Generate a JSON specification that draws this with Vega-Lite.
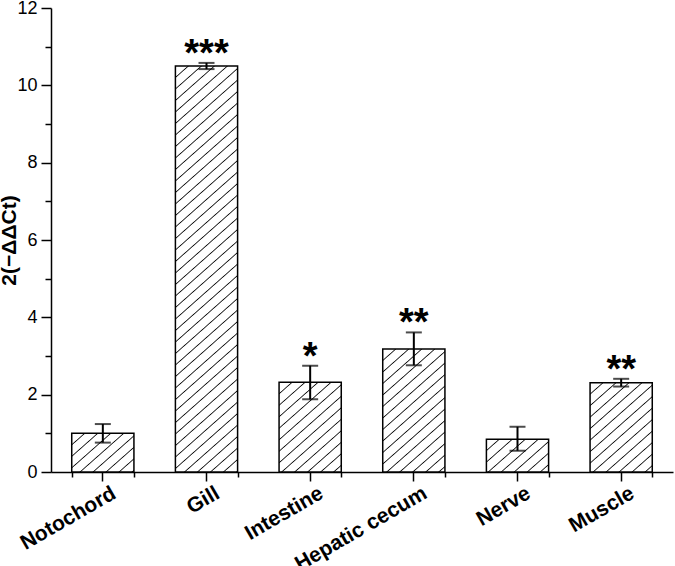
{
  "$schema": "https://vega.github.io/schema/vega-lite/v6.json",
  "width": 622,
  "height": 464,
  "autosize": {"type": "none"},
  "padding": {"left": 51, "top": 8, "right": 2, "bottom": 94},
  "background": "white",
  "config": {"view": {"stroke": null}, "font": "Liberation Sans", "axis": {"grid": false}},
  "data": {"values": [
    {"tissue": "Notochord", "value": 1.0, "lo": 0.76, "hi": 1.24, "sig": ""},
    {"tissue": "Gill", "value": 10.5, "lo": 10.42, "hi": 10.58, "sig": "***"},
    {"tissue": "Intestine", "value": 2.32, "lo": 1.88, "hi": 2.75, "sig": "*"},
    {"tissue": "Hepatic cecum", "value": 3.18, "lo": 2.76, "hi": 3.61, "sig": "**"},
    {"tissue": "Nerve", "value": 0.85, "lo": 0.55, "hi": 1.17, "sig": ""},
    {"tissue": "Muscle", "value": 2.31, "lo": 2.21, "hi": 2.41, "sig": "**"}
  ]},
  "resolve": {"axis": {"x": "independent", "y": "independent"}},
  "layer": [
    {
      "transform": [{"filter": "datum.tissue === 'Notochord'"}],
      "mark": {"type": "bar", "stroke": "#000", "strokeWidth": 1.5, "fill": {"gradient": "linear", "x1": 0, "y1": 0, "x2": 1.140, "y2": 0.801, "stops": [
        {"offset": 0, "color": "#fff"},
        {"offset": 0.1105, "color": "#fff"}, {"offset": 0.1227, "color": "#111"}, {"offset": 0.1350, "color": "#fff"},
        {"offset": 0.2332, "color": "#fff"}, {"offset": 0.2455, "color": "#111"}, {"offset": 0.2578, "color": "#fff"},
        {"offset": 0.3560, "color": "#fff"}, {"offset": 0.3682, "color": "#111"}, {"offset": 0.3805, "color": "#fff"},
        {"offset": 0.4787, "color": "#fff"}, {"offset": 0.4910, "color": "#111"}, {"offset": 0.5032, "color": "#fff"},
        {"offset": 0.6014, "color": "#fff"}, {"offset": 0.6137, "color": "#111"}, {"offset": 0.6260, "color": "#fff"},
        {"offset": 0.7242, "color": "#fff"}, {"offset": 0.7364, "color": "#111"}, {"offset": 0.7487, "color": "#fff"},
        {"offset": 0.8469, "color": "#fff"}, {"offset": 0.8592, "color": "#111"}, {"offset": 0.8715, "color": "#fff"},
        {"offset": 0.9697, "color": "#fff"}, {"offset": 0.9819, "color": "#111"}, {"offset": 0.9942, "color": "#fff"},
        {"offset": 1, "color": "#fff"}
      ]}},
      "encoding": {
        "x": {"field": "tissue", "type": "nominal", "scale": {"domain": ["Notochord", "Gill", "Intestine", "Hepatic cecum", "Nerve", "Muscle"], "paddingInner": 0.4, "paddingOuter": 0.2},
          "axis": {"title": null, "orient": "bottom", "domainColor": "#000", "domainWidth": 1.5, "tickColor": "#000", "tickWidth": 1.5, "tickSize": 9, "labelAngle": -30, "labelAlign": "right", "labelBaseline": "top", "labelFont": "Liberation Sans", "labelFontWeight": "bold", "labelFontSize": 21, "labelColor": "#000", "labelPadding": 1, "labelOffset": 6}},
        "y": {"field": "value", "type": "quantitative", "scale": {"domain": [0, 12], "nice": false},
          "axis": {"title": "2(−ΔΔCt)", "orient": "left", "values": [0, 2, 4, 6, 8, 10, 12], "domainColor": "#000", "domainWidth": 1.5, "tickColor": "#000", "tickWidth": 1.5, "tickSize": 10, "labelFont": "Liberation Sans", "labelFontSize": 18, "labelColor": "#000", "labelPadding": 4, "titleFont": "Liberation Sans", "titleFontSize": 21, "titleFontWeight": "bold", "titleColor": "#000", "titlePadding": -3}}
      }
    },
    {
      "transform": [{"filter": "datum.tissue === 'Gill'"}],
      "mark": {"type": "bar", "stroke": "#000", "strokeWidth": 1.5, "fill": {"gradient": "linear", "x1": 0, "y1": 0, "x2": 0.1512, "y2": 1.1152, "stops": [
        {"offset": 0, "color": "#fff"},
        {"offset": 0.0224, "color": "#fff"}, {"offset": 0.0249, "color": "#111"}, {"offset": 0.0274, "color": "#fff"},
        {"offset": 0.0474, "color": "#fff"}, {"offset": 0.0499, "color": "#111"}, {"offset": 0.0524, "color": "#fff"},
        {"offset": 0.0723, "color": "#fff"}, {"offset": 0.0748, "color": "#111"}, {"offset": 0.0773, "color": "#fff"},
        {"offset": 0.0973, "color": "#fff"}, {"offset": 0.0998, "color": "#111"}, {"offset": 0.1023, "color": "#fff"},
        {"offset": 0.1222, "color": "#fff"}, {"offset": 0.1247, "color": "#111"}, {"offset": 0.1272, "color": "#fff"},
        {"offset": 0.1472, "color": "#fff"}, {"offset": 0.1497, "color": "#111"}, {"offset": 0.1522, "color": "#fff"},
        {"offset": 0.1721, "color": "#fff"}, {"offset": 0.1746, "color": "#111"}, {"offset": 0.1771, "color": "#fff"},
        {"offset": 0.1971, "color": "#fff"}, {"offset": 0.1996, "color": "#111"}, {"offset": 0.2021, "color": "#fff"},
        {"offset": 0.2220, "color": "#fff"}, {"offset": 0.2245, "color": "#111"}, {"offset": 0.2270, "color": "#fff"},
        {"offset": 0.2469, "color": "#fff"}, {"offset": 0.2494, "color": "#111"}, {"offset": 0.2519, "color": "#fff"},
        {"offset": 0.2719, "color": "#fff"}, {"offset": 0.2744, "color": "#111"}, {"offset": 0.2769, "color": "#fff"},
        {"offset": 0.2968, "color": "#fff"}, {"offset": 0.2993, "color": "#111"}, {"offset": 0.3018, "color": "#fff"},
        {"offset": 0.3218, "color": "#fff"}, {"offset": 0.3243, "color": "#111"}, {"offset": 0.3268, "color": "#fff"},
        {"offset": 0.3467, "color": "#fff"}, {"offset": 0.3492, "color": "#111"}, {"offset": 0.3517, "color": "#fff"},
        {"offset": 0.3717, "color": "#fff"}, {"offset": 0.3742, "color": "#111"}, {"offset": 0.3767, "color": "#fff"},
        {"offset": 0.3966, "color": "#fff"}, {"offset": 0.3991, "color": "#111"}, {"offset": 0.4016, "color": "#fff"},
        {"offset": 0.4215, "color": "#fff"}, {"offset": 0.4240, "color": "#111"}, {"offset": 0.4265, "color": "#fff"},
        {"offset": 0.4465, "color": "#fff"}, {"offset": 0.4490, "color": "#111"}, {"offset": 0.4515, "color": "#fff"},
        {"offset": 0.4714, "color": "#fff"}, {"offset": 0.4739, "color": "#111"}, {"offset": 0.4764, "color": "#fff"},
        {"offset": 0.4964, "color": "#fff"}, {"offset": 0.4989, "color": "#111"}, {"offset": 0.5014, "color": "#fff"},
        {"offset": 0.5213, "color": "#fff"}, {"offset": 0.5238, "color": "#111"}, {"offset": 0.5263, "color": "#fff"},
        {"offset": 0.5463, "color": "#fff"}, {"offset": 0.5488, "color": "#111"}, {"offset": 0.5513, "color": "#fff"},
        {"offset": 0.5712, "color": "#fff"}, {"offset": 0.5737, "color": "#111"}, {"offset": 0.5762, "color": "#fff"},
        {"offset": 0.5962, "color": "#fff"}, {"offset": 0.5987, "color": "#111"}, {"offset": 0.6012, "color": "#fff"},
        {"offset": 0.6211, "color": "#fff"}, {"offset": 0.6236, "color": "#111"}, {"offset": 0.6261, "color": "#fff"},
        {"offset": 0.6460, "color": "#fff"}, {"offset": 0.6485, "color": "#111"}, {"offset": 0.6510, "color": "#fff"},
        {"offset": 0.6710, "color": "#fff"}, {"offset": 0.6735, "color": "#111"}, {"offset": 0.6760, "color": "#fff"},
        {"offset": 0.6959, "color": "#fff"}, {"offset": 0.6984, "color": "#111"}, {"offset": 0.7009, "color": "#fff"},
        {"offset": 0.7209, "color": "#fff"}, {"offset": 0.7234, "color": "#111"}, {"offset": 0.7259, "color": "#fff"},
        {"offset": 0.7458, "color": "#fff"}, {"offset": 0.7483, "color": "#111"}, {"offset": 0.7508, "color": "#fff"},
        {"offset": 0.7708, "color": "#fff"}, {"offset": 0.7733, "color": "#111"}, {"offset": 0.7758, "color": "#fff"},
        {"offset": 0.7957, "color": "#fff"}, {"offset": 0.7982, "color": "#111"}, {"offset": 0.8007, "color": "#fff"},
        {"offset": 0.8207, "color": "#fff"}, {"offset": 0.8232, "color": "#111"}, {"offset": 0.8257, "color": "#fff"},
        {"offset": 0.8456, "color": "#fff"}, {"offset": 0.8481, "color": "#111"}, {"offset": 0.8506, "color": "#fff"},
        {"offset": 0.8705, "color": "#fff"}, {"offset": 0.8730, "color": "#111"}, {"offset": 0.8755, "color": "#fff"},
        {"offset": 0.8955, "color": "#fff"}, {"offset": 0.8980, "color": "#111"}, {"offset": 0.9005, "color": "#fff"},
        {"offset": 0.9204, "color": "#fff"}, {"offset": 0.9229, "color": "#111"}, {"offset": 0.9254, "color": "#fff"},
        {"offset": 0.9454, "color": "#fff"}, {"offset": 0.9479, "color": "#111"}, {"offset": 0.9504, "color": "#fff"},
        {"offset": 0.9703, "color": "#fff"}, {"offset": 0.9728, "color": "#111"}, {"offset": 0.9753, "color": "#fff"},
        {"offset": 0.9953, "color": "#fff"}, {"offset": 0.9978, "color": "#111"}, {"offset": 1, "color": "#fff"}
      ]}},
      "encoding": {
        "x": {"field": "tissue", "type": "nominal", "scale": {"domain": ["Notochord", "Gill", "Intestine", "Hepatic cecum", "Nerve", "Muscle"], "paddingInner": 0.4, "paddingOuter": 0.2}, "axis": null},
        "y": {"field": "value", "type": "quantitative", "scale": {"domain": [0, 12], "nice": false}, "axis": null}
      }
    },
    {
      "transform": [{"filter": "datum.tissue === 'Intestine'"}],
      "mark": {"type": "bar", "stroke": "#000", "strokeWidth": 1.5, "fill": {"gradient": "linear", "x1": 0, "y1": 0, "x2": 0.7191, "y2": 1.1722, "stops": [
        {"offset": 0, "color": "#fff"},
        {"offset": 0.0716, "color": "#fff"}, {"offset": 0.0795, "color": "#111"}, {"offset": 0.0874, "color": "#fff"},
        {"offset": 0.1510, "color": "#fff"}, {"offset": 0.1589, "color": "#111"}, {"offset": 0.1668, "color": "#fff"},
        {"offset": 0.2305, "color": "#fff"}, {"offset": 0.2384, "color": "#111"}, {"offset": 0.2463, "color": "#fff"},
        {"offset": 0.3099, "color": "#fff"}, {"offset": 0.3178, "color": "#111"}, {"offset": 0.3257, "color": "#fff"},
        {"offset": 0.3894, "color": "#fff"}, {"offset": 0.3973, "color": "#111"}, {"offset": 0.4052, "color": "#fff"},
        {"offset": 0.4689, "color": "#fff"}, {"offset": 0.4768, "color": "#111"}, {"offset": 0.4847, "color": "#fff"},
        {"offset": 0.5483, "color": "#fff"}, {"offset": 0.5562, "color": "#111"}, {"offset": 0.5641, "color": "#fff"},
        {"offset": 0.6278, "color": "#fff"}, {"offset": 0.6357, "color": "#111"}, {"offset": 0.6436, "color": "#fff"},
        {"offset": 0.7072, "color": "#fff"}, {"offset": 0.7151, "color": "#111"}, {"offset": 0.7230, "color": "#fff"},
        {"offset": 0.7867, "color": "#fff"}, {"offset": 0.7946, "color": "#111"}, {"offset": 0.8025, "color": "#fff"},
        {"offset": 0.8662, "color": "#fff"}, {"offset": 0.8741, "color": "#111"}, {"offset": 0.8820, "color": "#fff"},
        {"offset": 0.9456, "color": "#fff"}, {"offset": 0.9535, "color": "#111"}, {"offset": 0.9614, "color": "#fff"},
        {"offset": 1, "color": "#fff"}
      ]}},
      "encoding": {
        "x": {"field": "tissue", "type": "nominal", "scale": {"domain": ["Notochord", "Gill", "Intestine", "Hepatic cecum", "Nerve", "Muscle"], "paddingInner": 0.4, "paddingOuter": 0.2}, "axis": null},
        "y": {"field": "value", "type": "quantitative", "scale": {"domain": [0, 12], "nice": false}, "axis": null}
      }
    },
    {
      "transform": [{"filter": "datum.tissue === 'Hepatic cecum'"}],
      "mark": {"type": "bar", "stroke": "#000", "strokeWidth": 1.5, "fill": {"gradient": "linear", "x1": 0, "y1": 0, "x2": 0.5398, "y2": 1.2059, "stops": [
        {"offset": 0, "color": "#fff"},
        {"offset": 0.0581, "color": "#fff"}, {"offset": 0.0646, "color": "#111"}, {"offset": 0.0711, "color": "#fff"},
        {"offset": 0.1227, "color": "#fff"}, {"offset": 0.1292, "color": "#111"}, {"offset": 0.1357, "color": "#fff"},
        {"offset": 0.1874, "color": "#fff"}, {"offset": 0.1939, "color": "#111"}, {"offset": 0.2004, "color": "#fff"},
        {"offset": 0.2520, "color": "#fff"}, {"offset": 0.2585, "color": "#111"}, {"offset": 0.2650, "color": "#fff"},
        {"offset": 0.3166, "color": "#fff"}, {"offset": 0.3231, "color": "#111"}, {"offset": 0.3296, "color": "#fff"},
        {"offset": 0.3812, "color": "#fff"}, {"offset": 0.3877, "color": "#111"}, {"offset": 0.3942, "color": "#fff"},
        {"offset": 0.4458, "color": "#fff"}, {"offset": 0.4523, "color": "#111"}, {"offset": 0.4588, "color": "#fff"},
        {"offset": 0.5105, "color": "#fff"}, {"offset": 0.5170, "color": "#111"}, {"offset": 0.5235, "color": "#fff"},
        {"offset": 0.5751, "color": "#fff"}, {"offset": 0.5816, "color": "#111"}, {"offset": 0.5881, "color": "#fff"},
        {"offset": 0.6397, "color": "#fff"}, {"offset": 0.6462, "color": "#111"}, {"offset": 0.6527, "color": "#fff"},
        {"offset": 0.7043, "color": "#fff"}, {"offset": 0.7108, "color": "#111"}, {"offset": 0.7173, "color": "#fff"},
        {"offset": 0.7689, "color": "#fff"}, {"offset": 0.7754, "color": "#111"}, {"offset": 0.7819, "color": "#fff"},
        {"offset": 0.8336, "color": "#fff"}, {"offset": 0.8401, "color": "#111"}, {"offset": 0.8466, "color": "#fff"},
        {"offset": 0.8982, "color": "#fff"}, {"offset": 0.9047, "color": "#111"}, {"offset": 0.9112, "color": "#fff"},
        {"offset": 0.9628, "color": "#fff"}, {"offset": 0.9693, "color": "#111"}, {"offset": 0.9758, "color": "#fff"},
        {"offset": 1, "color": "#fff"}
      ]}},
      "encoding": {
        "x": {"field": "tissue", "type": "nominal", "scale": {"domain": ["Notochord", "Gill", "Intestine", "Hepatic cecum", "Nerve", "Muscle"], "paddingInner": 0.4, "paddingOuter": 0.2}, "axis": null},
        "y": {"field": "value", "type": "quantitative", "scale": {"domain": [0, 12], "nice": false}, "axis": null}
      }
    },
    {
      "transform": [{"filter": "datum.tissue === 'Nerve'"}],
      "mark": {"type": "bar", "stroke": "#000", "strokeWidth": 1.5, "fill": {"gradient": "linear", "x1": 0, "y1": 0, "x2": 1.177, "y2": 0.703, "stops": [
        {"offset": 0, "color": "#fff"},
        {"offset": 0.1177, "color": "#fff"}, {"offset": 0.1308, "color": "#111"}, {"offset": 0.1439, "color": "#fff"},
        {"offset": 0.2486, "color": "#fff"}, {"offset": 0.2617, "color": "#111"}, {"offset": 0.2748, "color": "#fff"},
        {"offset": 0.3794, "color": "#fff"}, {"offset": 0.3925, "color": "#111"}, {"offset": 0.4056, "color": "#fff"},
        {"offset": 0.5103, "color": "#fff"}, {"offset": 0.5234, "color": "#111"}, {"offset": 0.5365, "color": "#fff"},
        {"offset": 0.6411, "color": "#fff"}, {"offset": 0.6542, "color": "#111"}, {"offset": 0.6673, "color": "#fff"},
        {"offset": 0.7719, "color": "#fff"}, {"offset": 0.7850, "color": "#111"}, {"offset": 0.7981, "color": "#fff"},
        {"offset": 0.9028, "color": "#fff"}, {"offset": 0.9159, "color": "#111"}, {"offset": 0.9290, "color": "#fff"},
        {"offset": 1, "color": "#fff"}
      ]}},
      "encoding": {
        "x": {"field": "tissue", "type": "nominal", "scale": {"domain": ["Notochord", "Gill", "Intestine", "Hepatic cecum", "Nerve", "Muscle"], "paddingInner": 0.4, "paddingOuter": 0.2}, "axis": null},
        "y": {"field": "value", "type": "quantitative", "scale": {"domain": [0, 12], "nice": false}, "axis": null}
      }
    },
    {
      "transform": [{"filter": "datum.tissue === 'Muscle'"}],
      "mark": {"type": "bar", "stroke": "#000", "strokeWidth": 1.5, "fill": {"gradient": "linear", "x1": 0, "y1": 0, "x2": 0.7216, "y2": 1.1713, "stops": [
        {"offset": 0, "color": "#fff"},
        {"offset": 0.0717, "color": "#fff"}, {"offset": 0.0797, "color": "#111"}, {"offset": 0.0877, "color": "#fff"},
        {"offset": 0.1513, "color": "#fff"}, {"offset": 0.1593, "color": "#111"}, {"offset": 0.1673, "color": "#fff"},
        {"offset": 0.2310, "color": "#fff"}, {"offset": 0.2390, "color": "#111"}, {"offset": 0.2470, "color": "#fff"},
        {"offset": 0.3107, "color": "#fff"}, {"offset": 0.3187, "color": "#111"}, {"offset": 0.3267, "color": "#fff"},
        {"offset": 0.3903, "color": "#fff"}, {"offset": 0.3983, "color": "#111"}, {"offset": 0.4063, "color": "#fff"},
        {"offset": 0.4700, "color": "#fff"}, {"offset": 0.4780, "color": "#111"}, {"offset": 0.4860, "color": "#fff"},
        {"offset": 0.5497, "color": "#fff"}, {"offset": 0.5577, "color": "#111"}, {"offset": 0.5657, "color": "#fff"},
        {"offset": 0.6293, "color": "#fff"}, {"offset": 0.6373, "color": "#111"}, {"offset": 0.6453, "color": "#fff"},
        {"offset": 0.7090, "color": "#fff"}, {"offset": 0.7170, "color": "#111"}, {"offset": 0.7250, "color": "#fff"},
        {"offset": 0.7887, "color": "#fff"}, {"offset": 0.7967, "color": "#111"}, {"offset": 0.8047, "color": "#fff"},
        {"offset": 0.8684, "color": "#fff"}, {"offset": 0.8764, "color": "#111"}, {"offset": 0.8844, "color": "#fff"},
        {"offset": 0.9480, "color": "#fff"}, {"offset": 0.9560, "color": "#111"}, {"offset": 0.9640, "color": "#fff"},
        {"offset": 1, "color": "#fff"}
      ]}},
      "encoding": {
        "x": {"field": "tissue", "type": "nominal", "scale": {"domain": ["Notochord", "Gill", "Intestine", "Hepatic cecum", "Nerve", "Muscle"], "paddingInner": 0.4, "paddingOuter": 0.2}, "axis": null},
        "y": {"field": "value", "type": "quantitative", "scale": {"domain": [0, 12], "nice": false}, "axis": null}
      }
    },
    {
      "mark": {"type": "rule", "color": "#000", "strokeWidth": 2},
      "encoding": {
        "x": {"field": "tissue", "type": "nominal", "scale": {"domain": ["Notochord", "Gill", "Intestine", "Hepatic cecum", "Nerve", "Muscle"], "paddingInner": 0.4, "paddingOuter": 0.2},
          "axis": {"title": null, "orient": "bottom", "labels": false, "domain": false, "tickBand": "extent", "tickColor": "#000", "tickWidth": 1.5, "tickSize": 5}},
        "y": {"field": "lo", "type": "quantitative", "scale": {"domain": [0, 12], "nice": false},
          "axis": {"title": null, "orient": "left", "values": [1, 3, 5, 7, 9, 11], "labels": false, "domain": false, "tickColor": "#000", "tickWidth": 1.5, "tickSize": 6}},
        "y2": {"field": "hi"}
      }
    },
    {
      "mark": {"type": "tick", "orient": "horizontal", "color": "#000", "size": 16, "thickness": 2},
      "encoding": {
        "x": {"field": "tissue", "type": "nominal", "scale": {"domain": ["Notochord", "Gill", "Intestine", "Hepatic cecum", "Nerve", "Muscle"], "paddingInner": 0.4, "paddingOuter": 0.2}, "axis": null},
        "y": {"field": "lo", "type": "quantitative", "scale": {"domain": [0, 12], "nice": false}, "axis": null}
      }
    },
    {
      "mark": {"type": "tick", "orient": "horizontal", "color": "#000", "size": 16, "thickness": 2},
      "encoding": {
        "x": {"field": "tissue", "type": "nominal", "scale": {"domain": ["Notochord", "Gill", "Intestine", "Hepatic cecum", "Nerve", "Muscle"], "paddingInner": 0.4, "paddingOuter": 0.2}, "axis": null},
        "y": {"field": "hi", "type": "quantitative", "scale": {"domain": [0, 12], "nice": false}, "axis": null}
      }
    },
    {
      "mark": {"type": "text", "font": "Liberation Sans", "fontSize": 38, "fontWeight": "bold", "baseline": "alphabetic", "dy": 3, "color": "#000"},
      "encoding": {
        "x": {"field": "tissue", "type": "nominal", "scale": {"domain": ["Notochord", "Gill", "Intestine", "Hepatic cecum", "Nerve", "Muscle"], "paddingInner": 0.4, "paddingOuter": 0.2}, "axis": null},
        "y": {"field": "hi", "type": "quantitative", "scale": {"domain": [0, 12], "nice": false}, "axis": null},
        "text": {"field": "sig"}
      }
    }
  ]
}
